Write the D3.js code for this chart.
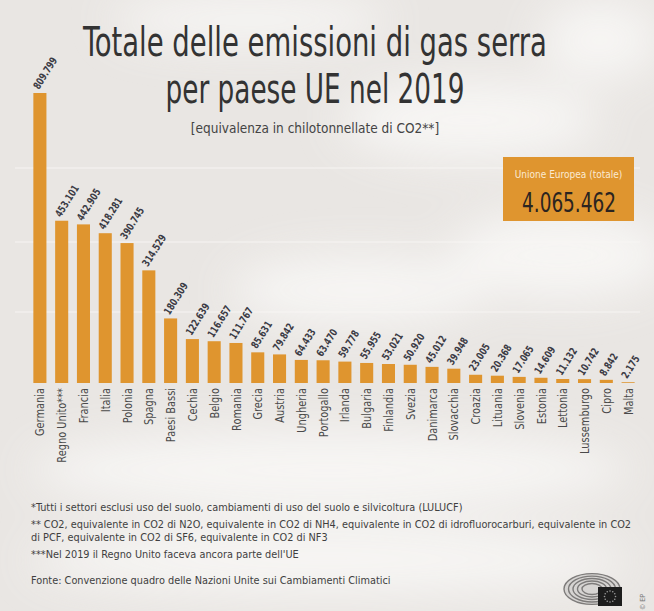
<!DOCTYPE html>
<html lang="it">
<head>
<meta charset="utf-8">
<script src="https://cdn.jsdelivr.net/npm/d3@7"></script>
<style>
  html, body { margin: 0; padding: 0; background: #ece9e6; }
  svg { display: block; }
  text { font-family: "Liberation Sans Narrow", "DejaVu Sans Condensed", "DejaVu Sans", "Liberation Sans", Arial, sans-serif; }
</style>
</head>
<body>
<svg id="chart" width="654" height="611"></svg>
<script>
// Greenhouse-gas emissions per EU country, 2019 (kt CO2 equivalent)
const countries = ["Germania", "Regno Unito***", "Francia", "Italia", "Polonia", "Spagna",
  "Paesi Bassi", "Cechia", "Belgio", "Romania", "Grecia", "Austria", "Ungheria", "Portogallo",
  "Irlanda", "Bulgaria", "Finlandia", "Svezia", "Danimarca", "Slovacchia", "Croazia", "Lituania",
  "Slovenia", "Estonia", "Lettonia", "Lussemburgo", "Cipro", "Malta"];
const emissions = [809799, 453101, 442905, 418281, 390745, 314529, 180309, 122639, 116657,
  111767, 85631, 79842, 64433, 63470, 59778, 55955, 53021, 50920, 45012, 39948, 23005, 20368,
  17065, 14609, 11132, 10742, 8842, 2175];
const euTotal = 4065462;

const titleLines = ["Totale delle emissioni di gas serra", "per paese UE nel 2019"];
const subtitle = "[equivalenza in chilotonnellate di CO2**]";
const totalLabel = "Unione Europea (totale)";
const footnotes = [
  "*Tutti i settori esclusi uso del suolo, cambiamenti di uso del suolo e silvicoltura (LULUCF)",
  "** CO2, equivalente in CO2 di N2O, equivalente in CO2 di NH4, equivalente in CO2 di idrofluorocarburi, equivalente in CO2",
  "di PCF, equivalente in CO2 di SF6, equivalente in CO2 di NF3",
  "***Nel 2019 il Regno Unito faceva ancora parte dell'UE",
  "Fonte: Convenzione quadro delle Nazioni Unite sui Cambiamenti Climatici"
];

const ORANGE = "#df952f";
const itLocale = d3.formatLocale({ decimal: ",", thousands: ".", grouping: [3], currency: ["€", ""] });
const fmt = itLocale.format(",d");

const svg = d3.select("#chart");

// squeeze a centred text horizontally so it spans the given width
function fitWidth(sel, cx, cy, width) {
  const len = sel.node().getComputedTextLength();
  const s = Math.min(1, width / len);
  sel.attr("x", 0).attr("y", 0).attr("transform", `translate(${cx},${cy}) scale(${s},1)`);
}

// ---- background haze ----
const defs = svg.append("defs");
const blur = defs.append("filter").attr("id", "soft").attr("x", "-50%").attr("y", "-50%")
  .attr("width", "200%").attr("height", "200%");
blur.append("feGaussianBlur").attr("stdDeviation", 22);

svg.append("rect").attr("width", 654).attr("height", 611).attr("fill", "#e9e6e3");
const haze = svg.append("g").attr("filter", "url(#soft)").attr("opacity", 0.8);
[[470, 120, 130, 40], [560, 255, 110, 45], [360, 290, 130, 35], [250, 20, 140, 25],
 [600, 40, 60, 40], [330, 470, 300, 40], [330, 560, 300, 35]]
  .forEach(([cx, cy, rx, ry]) => haze.append("ellipse")
    .attr("cx", cx).attr("cy", cy).attr("rx", rx).attr("ry", ry).attr("fill", "#faf9f8"));

const gridG = svg.append("g").attr("stroke", "#f7f5f3").attr("stroke-width", 1.2).attr("opacity", 0.9);
[168, 242, 312].forEach(y => gridG.append("line").attr("x1", 15).attr("x2", 640).attr("y1", y).attr("y2", y));

// ---- title ----
const titleG = svg.append("g").attr("fill", "#333333").attr("text-anchor", "middle");
fitWidth(titleG.append("text").attr("font-size", 41).text(titleLines[0]), 315, 56, 464);
fitWidth(titleG.append("text").attr("font-size", 41).text(titleLines[1]), 315, 103, 299);
fitWidth(titleG.append("text").attr("font-size", 13.5).attr("fill", "#444").text(subtitle), 315, 133, 255);

// ---- scales ----
const x = d3.scaleBand().domain(countries).range([29, 639]).paddingInner(0.4).paddingOuter(0.2);
const y = d3.scaleLinear().domain([0, d3.max(emissions)]).range([383, 93]);
const data = countries.map((c, i) => ({ country: c, value: emissions[i] }));

// ---- bars ----
svg.append("g").selectAll("rect").data(data).join("rect")
  .attr("x", d => x(d.country))
  .attr("y", d => y(d.value))
  .attr("width", x.bandwidth())
  .attr("height", d => y(0) - y(d.value))
  .attr("fill", ORANGE);

// ---- value labels ----
svg.append("g").selectAll("text").data(data).join("text")
  .attr("transform", d => `translate(${x(d.country) + x.bandwidth() / 2 - 1},${y(d.value) - 3}) rotate(-58) scale(0.82,1)`)
  .attr("font-size", 10.5).attr("font-weight", "bold").attr("fill", "#3b3b45")
  .text(d => fmt(d.value));

// ---- category axis ----
const xAxis = d3.axisBottom(x).tickSize(0).tickPadding(0);
const axisG = svg.append("g").attr("transform", `translate(0,${y(0)})`).call(xAxis);
axisG.select(".domain").remove();
axisG.selectAll(".tick text")
  .attr("transform", "translate(0,5) rotate(-90) scale(0.84,1)")
  .attr("text-anchor", "end").attr("dy", "0.35em").attr("x", 0).attr("y", 0)
  .attr("font-size", 13).attr("fill", "#4a4a4a")
  .style("font-family", "'Liberation Sans Narrow', 'DejaVu Sans Condensed', 'DejaVu Sans', sans-serif");

// ---- EU total box ----
const box = svg.append("g").attr("text-anchor", "middle");
box.append("rect").attr("x", 503).attr("y", 157).attr("width", 131).attr("height", 64).attr("fill", ORANGE);
fitWidth(box.append("text").attr("font-size", 10).attr("fill", "#fbead2").text(totalLabel), 568.5, 178, 110);
fitWidth(box.append("text").attr("font-size", 27).attr("fill", "#2b2420").text(fmt(euTotal)), 569, 212, 94);

// ---- footnotes: one common horizontal squeeze so the long line spans the page ----
const noteY = [511, 528, 541, 558, 584];
const notes = svg.append("g").attr("transform", "translate(31,0)");
const noteTexts = notes.selectAll("text").data(footnotes).join("text")
  .attr("x", 0).attr("y", (d, i) => noteY[i])
  .attr("font-size", 10).attr("fill", "#3f3f3f").text(d => d);
const longest = noteTexts.nodes()[1].getComputedTextLength();
const sx = 601 / longest;
noteTexts.attr("transform", (d, i) => `translate(0,${noteY[i]}) scale(${sx},1) translate(0,${-noteY[i]})`);

// ---- parliament emblem ----
const logo = svg.append("g").attr("transform", "translate(592,589)");
[28, 23.5, 19, 14.5, 10].forEach((r, i) => logo.append("ellipse")
  .attr("rx", r).attr("ry", r * 0.55).attr("fill", i === 0 ? "#d6d4d2" : "none")
  .attr("stroke", "#7d7b7a").attr("stroke-width", 1.4));
logo.append("rect").attr("x", 6).attr("y", -2).attr("width", 24).attr("height", 19).attr("fill", "#1d1d1d");
d3.range(12).forEach(k => {
  const a = k * Math.PI / 6;
  logo.append("circle").attr("cx", 18 + 5.5 * Math.cos(a)).attr("cy", 7.5 + 5.5 * Math.sin(a))
    .attr("r", 0.8).attr("fill", "#9a9a9a");
});
svg.append("text").attr("transform", "translate(645,610) rotate(-90)")
  .attr("font-size", 7).attr("fill", "#777").text("© EP");
</script>
</body>
</html>
